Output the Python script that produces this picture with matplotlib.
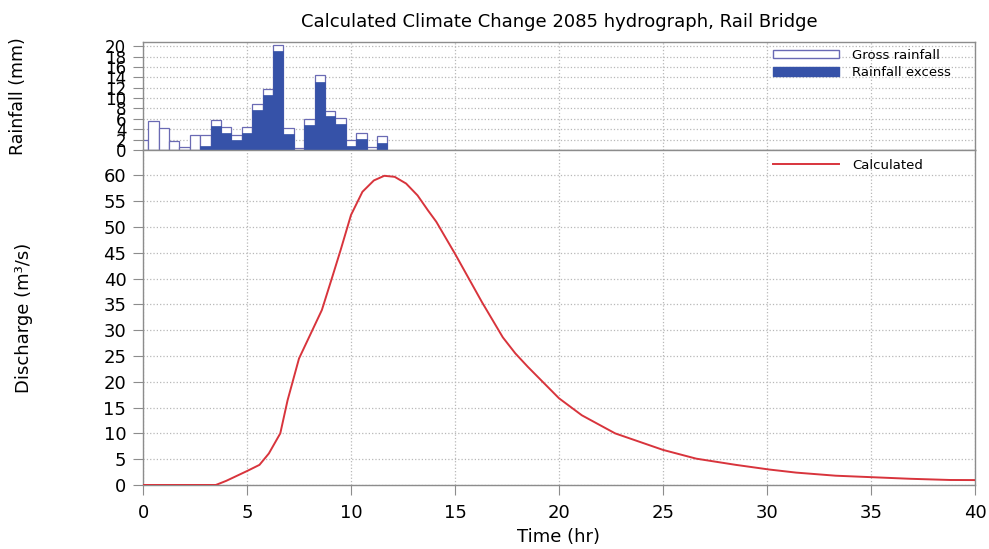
import numpy as np
import matplotlib.pyplot as plt
from matplotlib.patches import Patch
from matplotlib.lines import Line2D

plt.rcParams['font.family'] = ['DejaVu Sans']

# rainfall, 0.5 hr blocks
rain_t = [0.0, 0.5, 1.0, 1.5, 2.0, 2.5, 3.0, 3.5, 4.0, 4.5, 5.0, 5.5,
          6.0, 6.5, 7.0, 7.5, 8.0, 8.5, 9.0, 9.5, 10.0, 10.5, 11.0, 11.5]
gross = [2.0, 5.6, 4.3, 1.7, 0.5, 2.9, 2.9, 5.8, 4.4, 2.9, 4.4, 8.8,
         11.7, 20.3, 4.2, 0.4, 6.0, 14.4, 7.6, 6.1, 1.9, 3.3, 0.6, 2.7]
excess = [0.0, 0.0, 0.0, 0.0, 0.0, 0.0, 0.8, 4.7, 3.3, 2.0, 3.3, 7.7,
          10.5, 19.0, 3.1, 0.0, 4.9, 13.1, 6.5, 5.0, 0.8, 2.1, 0.0, 1.4]

# calculated hydrograph
q_t = [0.0, 3.5, 4.0, 5.0, 5.6, 6.05, 6.6, 6.95, 7.5, 8.6, 9.1, 9.5,
       10.0, 10.55, 11.1, 11.6, 12.1, 12.65, 13.2, 13.7, 14.1, 15.0,
       16.3, 17.3, 17.9, 18.5, 20.0, 21.1, 22.7, 25.0, 26.6, 28.5, 30.1,
       31.4, 33.3, 35.1, 36.9, 38.8, 40.0]
q = [0.0, 0.0, 0.8, 2.7, 3.9, 6.1, 10.0, 16.4, 24.5, 33.9, 40.3, 45.5,
     52.3, 56.8, 59.0, 59.9, 59.7, 58.4, 56.1, 53.2, 51.0, 44.8,
     35.4, 28.6, 25.5, 22.9, 16.8, 13.5, 10.0, 6.8, 5.1, 3.9, 3.0,
     2.4, 1.8, 1.5, 1.2, 0.97, 0.95]

fig = plt.figure(figsize=(9.89, 5.49), dpi=100)
ax1 = fig.add_axes([0.1446, 0.7268, 0.8412, 0.1967])
ax2 = fig.add_axes([0.1446, 0.1166, 0.8412, 0.6102])

edge_col = '#6a6ab4'
fill_col = '#3652a8'
red = '#d8343c'
spine_col = '#8c8c8c'

ax1.bar(rain_t, gross, width=0.5, color='white', edgecolor=edge_col, linewidth=0.9, zorder=2)
ax1.bar(rain_t, excess, width=0.5, color=fill_col, edgecolor=fill_col, linewidth=0.5, zorder=3)
ax1.set_xlim(0, 40)
ax1.set_ylim(0, 20.8)
ax1.set_yticks(np.arange(0, 21, 2))
ax1.set_xticks(np.arange(0, 41, 5))
ax1.tick_params(axis='x', bottom=False, labelbottom=False)
ax1.tick_params(axis='y', labelsize=12, length=7, color=spine_col, pad=5)
ax1.set_ylabel('Rainfall (mm)', fontsize=12.5)
ax1.grid(True, color='#b8b8b8', linestyle=':', linewidth=0.9, zorder=0)
ax1.set_axisbelow(True)
ax1.legend(handles=[Patch(facecolor='white', edgecolor=edge_col),
                    Patch(facecolor=fill_col, edgecolor=fill_col)],
           labels=['Gross rainfall', 'Rainfall excess'],
           loc='upper left', frameon=False, fontsize=9.5,
           handlelength=5, handleheight=0.6, handletextpad=1.0,
           borderaxespad=0.1, bbox_to_anchor=(0.749, 1.0), labelspacing=0.35)
ax1.set_title('Calculated Climate Change 2085 hydrograph, Rail Bridge', fontsize=13, pad=11)

ax2.plot(q_t, q, color=red, linewidth=1.4, label='Calculated', zorder=3)
ax2.set_xlim(0, 40)
ax2.set_ylim(0, 64.9)
ax2.set_yticks(np.arange(0, 61, 5))
ax2.set_xticks(np.arange(0, 41, 5))
ax2.tick_params(axis='both', length=7, color=spine_col)
ax2.tick_params(axis='y', labelsize=13, pad=5)
ax2.tick_params(axis='x', labelsize=13, pad=7)
ax2.set_xlabel('Time (hr)', fontsize=13, labelpad=4)
ax2.set_ylabel('Discharge (m\u00b3/s)', fontsize=13)
ax2.grid(True, color='#b8b8b8', linestyle=':', linewidth=0.9, zorder=0)
ax2.set_axisbelow(True)
ax2.legend(handles=[Line2D([0], [0], color=red, linewidth=1.4)], labels=['Calculated'],
           loc='upper left', frameon=False, fontsize=9.5, handlelength=5,
           handletextpad=1.0, borderaxespad=0.1, bbox_to_anchor=(0.749, 0.993))

for ax in (ax1, ax2):
    for s in ax.spines.values():
        s.set_color(spine_col)
        s.set_linewidth(1.0)

ax1.yaxis.set_label_coords(-0.14, 0.5)
ax2.yaxis.set_label_coords(-0.132, 0.5)

fig.savefig('out.png', dpi=100)
